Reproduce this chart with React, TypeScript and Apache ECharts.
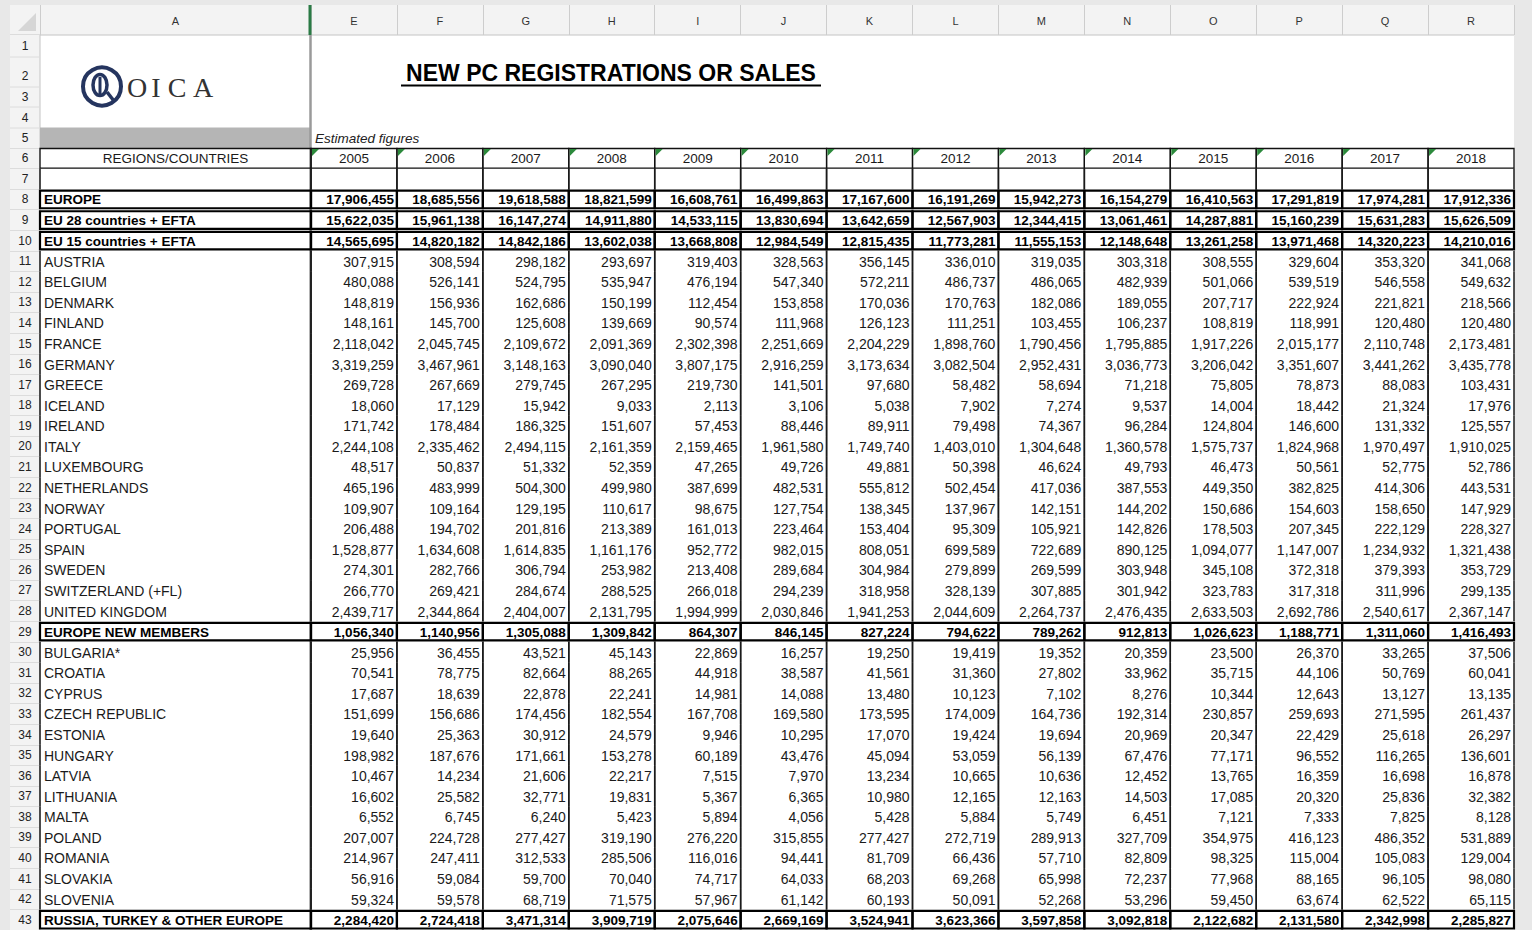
import React, { useEffect, useRef } from "react";
import * as echarts from "echarts";

// ---------- data ----------
const years = ["2005", "2006", "2007", "2008", "2009", "2010", "2011", "2012", "2013", "2014", "2015", "2016", "2017", "2018"];
const columnLetters = ["E", "F", "G", "H", "I", "J", "K", "L", "M", "N", "O", "P", "Q", "R"];
const rowNumbers = ["6", "7", "8", "9", "10", "11", "12", "13", "14", "15", "16", "17", "18", "19", "20", "21", "22", "23", "24", "25", "26", "27", "28", "29", "30", "31", "32", "33", "34", "35", "36", "37", "38", "39", "40", "41", "42", "43"];
const topRowNumbers = ["1", "2", "3", "4", "5"];

const europe = [17906455, 18685556, 19618588, 18821599, 16608761, 16499863, 17167600, 16191269, 15942273, 16154279, 16410563, 17291819, 17974281, 17912336];
const eu28Efta = [15622035, 15961138, 16147274, 14911880, 14533115, 13830694, 13642659, 12567903, 12344415, 13061461, 14287881, 15160239, 15631283, 15626509];
const eu15Efta = [14565695, 14820182, 14842186, 13602038, 13668808, 12984549, 12815435, 11773281, 11555153, 12148648, 13261258, 13971468, 14320223, 14210016];
const austria = [307915, 308594, 298182, 293697, 319403, 328563, 356145, 336010, 319035, 303318, 308555, 329604, 353320, 341068];
const belgium = [480088, 526141, 524795, 535947, 476194, 547340, 572211, 486737, 486065, 482939, 501066, 539519, 546558, 549632];
const denmark = [148819, 156936, 162686, 150199, 112454, 153858, 170036, 170763, 182086, 189055, 207717, 222924, 221821, 218566];
const finland = [148161, 145700, 125608, 139669, 90574, 111968, 126123, 111251, 103455, 106237, 108819, 118991, 120480, 120480];
const france = [2118042, 2045745, 2109672, 2091369, 2302398, 2251669, 2204229, 1898760, 1790456, 1795885, 1917226, 2015177, 2110748, 2173481];
const germany = [3319259, 3467961, 3148163, 3090040, 3807175, 2916259, 3173634, 3082504, 2952431, 3036773, 3206042, 3351607, 3441262, 3435778];
const greece = [269728, 267669, 279745, 267295, 219730, 141501, 97680, 58482, 58694, 71218, 75805, 78873, 88083, 103431];
const iceland = [18060, 17129, 15942, 9033, 2113, 3106, 5038, 7902, 7274, 9537, 14004, 18442, 21324, 17976];
const ireland = [171742, 178484, 186325, 151607, 57453, 88446, 89911, 79498, 74367, 96284, 124804, 146600, 131332, 125557];
const italy = [2244108, 2335462, 2494115, 2161359, 2159465, 1961580, 1749740, 1403010, 1304648, 1360578, 1575737, 1824968, 1970497, 1910025];
const luxembourg = [48517, 50837, 51332, 52359, 47265, 49726, 49881, 50398, 46624, 49793, 46473, 50561, 52775, 52786];
const netherlands = [465196, 483999, 504300, 499980, 387699, 482531, 555812, 502454, 417036, 387553, 449350, 382825, 414306, 443531];
const norway = [109907, 109164, 129195, 110617, 98675, 127754, 138345, 137967, 142151, 144202, 150686, 154603, 158650, 147929];
const portugal = [206488, 194702, 201816, 213389, 161013, 223464, 153404, 95309, 105921, 142826, 178503, 207345, 222129, 228327];
const spain = [1528877, 1634608, 1614835, 1161176, 952772, 982015, 808051, 699589, 722689, 890125, 1094077, 1147007, 1234932, 1321438];
const sweden = [274301, 282766, 306794, 253982, 213408, 289684, 304984, 279899, 269599, 303948, 345108, 372318, 379393, 353729];
const switzerland = [266770, 269421, 284674, 288525, 266018, 294239, 318958, 328139, 307885, 301942, 323783, 317318, 311996, 299135];
const unitedKingdom = [2439717, 2344864, 2404007, 2131795, 1994999, 2030846, 1941253, 2044609, 2264737, 2476435, 2633503, 2692786, 2540617, 2367147];
const europeNewMembers = [1056340, 1140956, 1305088, 1309842, 864307, 846145, 827224, 794622, 789262, 912813, 1026623, 1188771, 1311060, 1416493];
const bulgaria = [25956, 36455, 43521, 45143, 22869, 16257, 19250, 19419, 19352, 20359, 23500, 26370, 33265, 37506];
const croatia = [70541, 78775, 82664, 88265, 44918, 38587, 41561, 31360, 27802, 33962, 35715, 44106, 50769, 60041];
const cyprus = [17687, 18639, 22878, 22241, 14981, 14088, 13480, 10123, 7102, 8276, 10344, 12643, 13127, 13135];
const czechRepublic = [151699, 156686, 174456, 182554, 167708, 169580, 173595, 174009, 164736, 192314, 230857, 259693, 271595, 261437];
const estonia = [19640, 25363, 30912, 24579, 9946, 10295, 17070, 19424, 19694, 20969, 20347, 22429, 25618, 26297];
const hungary = [198982, 187676, 171661, 153278, 60189, 43476, 45094, 53059, 56139, 67476, 77171, 96552, 116265, 136601];
const latvia = [10467, 14234, 21606, 22217, 7515, 7970, 13234, 10665, 10636, 12452, 13765, 16359, 16698, 16878];
const lithuania = [16602, 25582, 32771, 19831, 5367, 6365, 10980, 12165, 12163, 14503, 17085, 20320, 25836, 32382];
const malta = [6552, 6745, 6240, 5423, 5894, 4056, 5428, 5884, 5749, 6451, 7121, 7333, 7825, 8128];
const poland = [207007, 224728, 277427, 319190, 276220, 315855, 277427, 272719, 289913, 327709, 354975, 416123, 486352, 531889];
const romania = [214967, 247411, 312533, 285506, 116016, 94441, 81709, 66436, 57710, 82809, 98325, 115004, 105083, 129004];
const slovakia = [56916, 59084, 59700, 70040, 74717, 64033, 68203, 69268, 65998, 72237, 77968, 88165, 96105, 98080];
const slovenia = [59324, 59578, 68719, 71575, 57967, 61142, 60193, 50091, 52268, 53296, 59450, 63674, 62522, 65115];
const russiaTurkeyOther = [2284420, 2724418, 3471314, 3909719, 2075646, 2669169, 3524941, 3623366, 3597858, 3092818, 2122682, 2131580, 2342998, 2285827];

const tableRows = [
  { label: "EUROPE", values: europe, bold: true },
  { label: "EU 28 countries + EFTA", values: eu28Efta, bold: true },
  { label: "EU 15 countries + EFTA", values: eu15Efta, bold: true },
  { label: "AUSTRIA", values: austria, bold: false },
  { label: "BELGIUM", values: belgium, bold: false },
  { label: "DENMARK", values: denmark, bold: false },
  { label: "FINLAND", values: finland, bold: false },
  { label: "FRANCE", values: france, bold: false },
  { label: "GERMANY", values: germany, bold: false },
  { label: "GREECE", values: greece, bold: false },
  { label: "ICELAND", values: iceland, bold: false },
  { label: "IRELAND", values: ireland, bold: false },
  { label: "ITALY", values: italy, bold: false },
  { label: "LUXEMBOURG", values: luxembourg, bold: false },
  { label: "NETHERLANDS", values: netherlands, bold: false },
  { label: "NORWAY", values: norway, bold: false },
  { label: "PORTUGAL", values: portugal, bold: false },
  { label: "SPAIN", values: spain, bold: false },
  { label: "SWEDEN", values: sweden, bold: false },
  { label: "SWITZERLAND (+FL)", values: switzerland, bold: false },
  { label: "UNITED KINGDOM", values: unitedKingdom, bold: false },
  { label: "EUROPE NEW MEMBERS", values: europeNewMembers, bold: true },
  { label: "BULGARIA*", values: bulgaria, bold: false },
  { label: "CROATIA", values: croatia, bold: false },
  { label: "CYPRUS", values: cyprus, bold: false },
  { label: "CZECH REPUBLIC", values: czechRepublic, bold: false },
  { label: "ESTONIA", values: estonia, bold: false },
  { label: "HUNGARY", values: hungary, bold: false },
  { label: "LATVIA", values: latvia, bold: false },
  { label: "LITHUANIA", values: lithuania, bold: false },
  { label: "MALTA", values: malta, bold: false },
  { label: "POLAND", values: poland, bold: false },
  { label: "ROMANIA", values: romania, bold: false },
  { label: "SLOVAKIA", values: slovakia, bold: false },
  { label: "SLOVENIA", values: slovenia, bold: false },
  { label: "RUSSIA, TURKEY & OTHER EUROPE", values: russiaTurkeyOther, bold: true },
];

const TITLE = "NEW PC REGISTRATIONS OR SALES";
const HEADER_LABEL = "REGIONS/COUNTRIES";
const NOTE = "Estimated figures";

// ---------- styling ----------
const FONT = "'Liberation Sans', Arial, Helvetica, sans-serif";
const fmt = (v: number) => v.toLocaleString("en-US");

type Cell = { c: number; r: number; kind: string; text: string };

const valueCells: Cell[] = [];
years.forEach((y, c) => valueCells.push({ c, r: 0, kind: "header", text: y }));
years.forEach((_, c) => valueCells.push({ c, r: 1, kind: "blank", text: "" }));
tableRows.forEach((row, i) =>
  row.values.forEach((v, c) => valueCells.push({ c, r: i + 2, kind: row.bold ? "bold" : "normal", text: fmt(v) }))
);

const labelCells: Cell[] = [];
labelCells.push({ c: 0, r: 0, kind: "headerLabel", text: HEADER_LABEL });
labelCells.push({ c: 0, r: 1, kind: "blank", text: "" });
tableRows.forEach((row, i) => labelCells.push({ c: 0, r: i + 2, kind: row.bold ? "bold" : "normal", text: row.label }));

function drawCell(cell: Cell, x0: number, y0: number, w: number, h: number, align: string) {
  const children: any[] = [];
  const cy = y0 + h / 2;
  const tx = align === "right" ? x0 + w - 3 : align === "left" ? x0 + 4 : x0 + w / 2;
  const line = (x: number) => ({
    type: "line",
    shape: { x1: x, y1: y0, x2: x, y2: y0 + h },
    style: { stroke: "#1a1a1a", lineWidth: 1.5 },
  });
  if (cell.kind === "header" || cell.kind === "headerLabel") {
    children.push({ type: "rect", shape: { x: x0, y: y0 + 0.5, width: w, height: h - 1 }, style: { fill: "none", stroke: "#111", lineWidth: 1.3 } });
    children.push({
      type: "text",
      style: { text: cell.text, x: x0 + w / 2, y: cy + 0.5, align: "center", verticalAlign: "middle", fontSize: 13.5, fontFamily: FONT, fill: "#1a1a1a" },
    });
    if (cell.kind === "header") {
      children.push({
        type: "polygon",
        shape: { points: [[x0 + 1, y0 + 1], [x0 + 8, y0 + 1], [x0 + 1, y0 + 8]] },
        style: { fill: "#2c8a3c" },
      });
    }
  } else if (cell.kind === "blank") {
    children.push(line(x0), line(x0 + w));
  } else if (cell.kind === "bold") {
    children.push({ type: "rect", shape: { x: x0, y: y0 + 1.5, width: w, height: h - 3 }, style: { fill: "none", stroke: "#000", lineWidth: 2.2 } });
    children.push({
      type: "text",
      style: { text: cell.text, x: tx, y: cy + 0.5, align, verticalAlign: "middle", fontSize: 13.5, fontWeight: "bold", fontFamily: FONT, fill: "#000" },
    });
  } else {
    children.push(line(x0), line(x0 + w));
    children.push({
      type: "text",
      style: { text: cell.text, x: tx, y: cy + 0.5, align, verticalAlign: "middle", fontSize: 14, fontFamily: FONT, fill: "#1a1a1a" },
    });
  }
  return children;
}

function makeRenderer(cells: Cell[], align: string) {
  return (params: any, api: any) => {
    const cell = cells[params.dataIndex];
    const p = api.coord([api.value(0), api.value(1)]);
    const s = api.size([1, 1]);
    const w = s[0];
    const h = s[1];
    return { type: "group", children: drawCell(cell, p[0] - w / 2, p[1] - h / 2, w, h, align) };
  };
}

const GRID_TOP = 148;
const rowHeaderY = [46, 76, 97, 118, 138];

function buildOption(): any {
  const graphic: any[] = [
    { type: "rect", z: 0, shape: { x: 0, y: 0, width: 1532, height: 930 }, style: { fill: "#e8e8e8" } },
    { type: "rect", z: 0, shape: { x: 10, y: 5, width: 1504, height: 925 }, style: { fill: "#ffffff" } },
    { type: "rect", z: 0, shape: { x: 10, y: 5, width: 1504, height: 30 }, style: { fill: "#f3f3f3" } },
    { type: "line", z: 0, shape: { x1: 10, y1: 35, x2: 1514, y2: 35 }, style: { stroke: "#c4c4c4", lineWidth: 1 } },
    { type: "rect", z: 0, shape: { x: 10, y: 35, width: 30, height: 895 }, style: { fill: "#f3f3f3" } },
    { type: "line", z: 0, shape: { x1: 40, y1: 35, x2: 40, y2: 930 }, style: { stroke: "#c4c4c4", lineWidth: 1 } },
    { type: "polygon", z: 1, shape: { points: [[18, 31], [36, 13], [36, 31]] }, style: { fill: "#d6d6d6" } },
    { type: "rect", z: 0, shape: { x: 40, y: 127.5, width: 270, height: 20.5 }, style: { fill: "#b5b5b5" } },
    { type: "line", z: 1, shape: { x1: 310, y1: 5, x2: 310, y2: 35 }, style: { stroke: "#2a7a45", lineWidth: 3 } },
    { type: "line", z: 1, shape: { x1: 310.5, y1: 35, x2: 310.5, y2: 930 }, style: { stroke: "#9a9a9a", lineWidth: 2.5 } },
    // logo
    { type: "circle", z: 3, shape: { cx: 102, cy: 86.5, r: 19 }, style: { fill: "none", stroke: "#25355f", lineWidth: 4 } },
    { type: "ellipse", z: 3, shape: { cx: 100, cy: 85, rx: 7, ry: 10.5 }, style: { fill: "none", stroke: "#25355f", lineWidth: 3.5 } },
    { type: "line", z: 3, shape: { x1: 100, y1: 77, x2: 100, y2: 94 }, style: { stroke: "#25355f", lineWidth: 3 } },
    { type: "line", z: 3, shape: { x1: 107, y1: 92, x2: 114, y2: 101 }, style: { stroke: "#25355f", lineWidth: 3.5 } },
    ...["O", "I", "C", "A"].map((ch, i) => ({
      type: "text",
      z: 3,
      style: { text: ch, x: [137, 156, 177, 203][i], y: 87, align: "center", verticalAlign: "middle", fontSize: 28, fontFamily: "'Liberation Serif', 'DejaVu Serif', serif", fill: "#333333" },
    })),
    // title
    { type: "text", z: 3, style: { text: TITLE, x: 611, y: 73, align: "center", verticalAlign: "middle", fontSize: 23, fontWeight: "bold", fontFamily: FONT, fill: "#000" } },
    { type: "line", z: 3, shape: { x1: 401, y1: 85.5, x2: 821, y2: 85.5 }, style: { stroke: "#000", lineWidth: 2 } },
    { type: "text", z: 3, style: { text: NOTE, x: 315, y: 138, align: "left", verticalAlign: "middle", fontSize: 13.5, fontStyle: "italic", fontFamily: FONT, fill: "#222" } },
    ...topRowNumbers.map((t, i) => ({
      type: "text",
      z: 3,
      style: { text: t, x: 25, y: rowHeaderY[i], align: "center", verticalAlign: "middle", fontSize: 12, fontFamily: FONT, fill: "#222" },
    })),
    ...[57, 87, 107, 128].map((y) => ({ type: "line", z: 1, shape: { x1: 10, y1: y, x2: 40, y2: y }, style: { stroke: "#dcdcdc", lineWidth: 1 } })),
  ];

  const letterAxisCommon = {
    type: "category",
    position: "top",
    offset: GRID_TOP - 35,
    axisLine: { show: false },
    axisTick: { show: true, length: 30, lineStyle: { color: "#cdcdcd", width: 1 } },
    axisLabel: { margin: 9, fontSize: 11, fontFamily: FONT, color: "#333" },
    splitLine: { show: false },
  };

  return {
    animation: false,
    backgroundColor: "#e8e8e8",
    graphic,
    grid: [
      { left: 40, top: GRID_TOP, width: 271, bottom: 0, outerBoundsMode: "none", containLabel: false },
      { left: 311, top: GRID_TOP, width: 1203, bottom: 0, outerBoundsMode: "none", containLabel: false },
    ],
    xAxis: [
      { ...letterAxisCommon, gridIndex: 0, data: ["A"] },
      {
        ...letterAxisCommon,
        gridIndex: 1,
        data: years,
        axisLabel: { ...letterAxisCommon.axisLabel, formatter: (_v: string, i: number) => columnLetters[i] },
      },
    ],
    yAxis: [
      {
        type: "category",
        gridIndex: 0,
        inverse: true,
        data: rowNumbers,
        axisLine: { show: false },
        axisTick: { show: true, length: 30, lineStyle: { color: "#dcdcdc", width: 1 } },
        axisLabel: { align: "center", margin: 15, fontSize: 12, fontFamily: FONT, color: "#222" },
        splitLine: { show: false },
      },
      { type: "category", gridIndex: 1, inverse: true, data: rowNumbers, show: false },
    ],
    series: [
      {
        type: "custom",
        xAxisIndex: 0,
        yAxisIndex: 0,
        clip: false,
        silent: true,
        renderItem: makeRenderer(labelCells, "left"),
        data: labelCells.map((d) => [d.c, d.r]),
      },
      {
        type: "custom",
        xAxisIndex: 1,
        yAxisIndex: 1,
        clip: false,
        silent: true,
        renderItem: makeRenderer(valueCells, "right"),
        data: valueCells.map((d) => [d.c, d.r]),
      },
    ],
  };
}

export default function App() {
  const ref = useRef<HTMLDivElement>(null);
  useEffect(() => {
    document.body.style.margin = "0";
    const chart = echarts.init(ref.current as HTMLDivElement, null, { renderer: "svg" });
    chart.setOption(buildOption());
    return () => chart.dispose();
  }, []);
  return <div ref={ref} style={{ width: 1532, height: 930 }} />;
}
